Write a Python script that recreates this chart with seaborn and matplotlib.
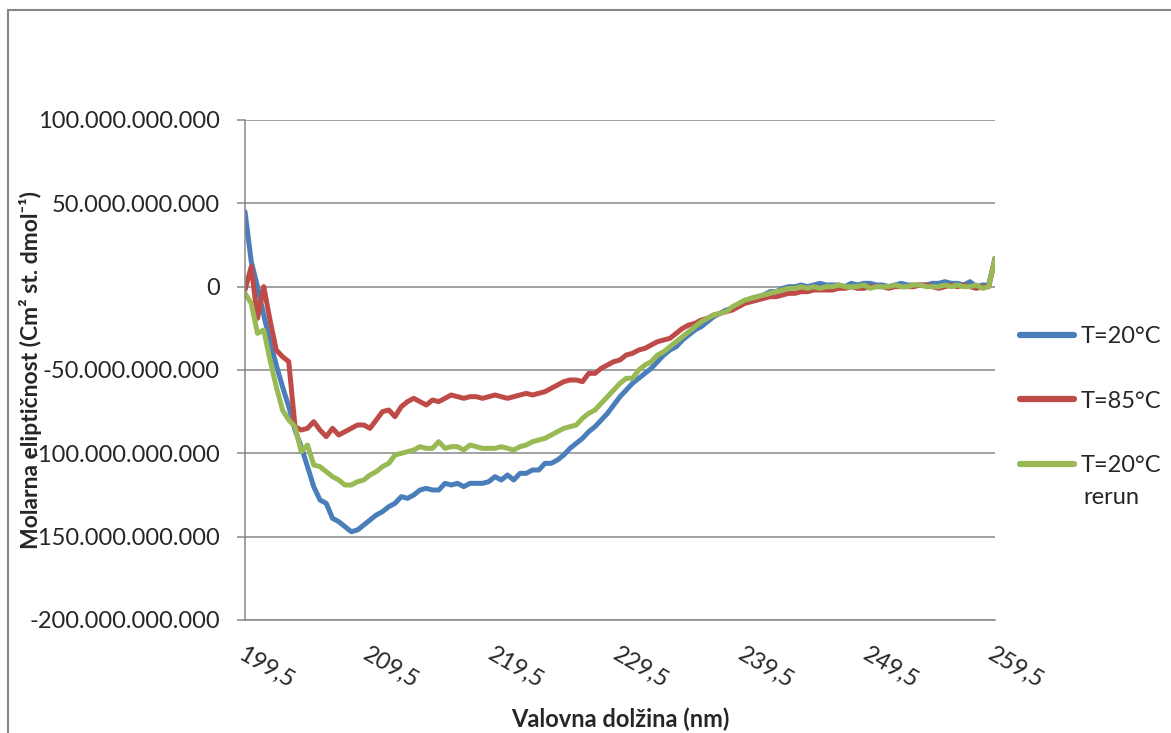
import numpy as np
import pandas as pd
import seaborn as sns
import matplotlib.pyplot as plt
from matplotlib.patches import Rectangle
from matplotlib.lines import Line2D
from matplotlib.ticker import FuncFormatter

# wavelengths (nm), 0.5 nm step as in the measurement
wavelength = np.arange(199.5, 259.75, 0.5)

# molar ellipticity, in units of 1e9
t20 = [45, 15, 0, -17, -33, -47, -60, -72, -86, -96,
       -108, -120, -128, -130, -139, -141, -144, -147, -146, -143,
       -140, -137, -135, -132, -130, -126, -127, -125, -122, -121,
       -122, -122, -118, -119, -118, -120, -118, -118, -118, -117,
       -114, -116, -113, -116, -112, -112, -110, -110, -106, -106,
       -104, -101, -97, -94, -91, -87, -84, -80, -76, -71,
       -66, -62, -58, -55, -52, -49, -45, -41, -38, -36,
       -32, -29, -26, -24, -21, -18, -16, -14, -13, -11,
       -9, -7, -6, -5, -3, -3, -1, 0, 0, 1,
       0, 1, 2, 1, 1, 1, 0, 2, 1, 2,
       2, 1, 1, 0, 1, 2, 1, 1, 1, 1,
       2, 2, 3, 2, 2, 1, 3, 0, 1, 1,
       17]
t85 = [-2, 12, -19, 0, -20, -38, -42, -45, -84, -86,
       -85, -81, -86, -90, -85, -89, -87, -85, -83, -83,
       -85, -80, -75, -74, -78, -72, -69, -67, -69, -71,
       -68, -69, -67, -65, -66, -67, -66, -66, -67, -66,
       -65, -66, -67, -66, -65, -64, -65, -64, -63, -61,
       -59, -57, -56, -56, -57, -52, -52, -49, -47, -45,
       -44, -41, -40, -38, -37, -35, -33, -32, -31, -28,
       -25, -23, -22, -20, -19, -17, -16, -15, -14, -12,
       -10, -9, -8, -7, -6, -6, -5, -4, -4, -3,
       -3, -2, -2, -2, -2, -1, -1, 0, -1, -1,
       0, 0, 0, -1, 0, 0, 0, 0, 1, 1,
       0, -1, 0, 1, 0, 1, 0, -1, 0, 0,
       17]
t20_rerun = [-4, -10, -28, -26, -44, -60, -74, -80, -84, -99,
             -95, -107, -108, -111, -114, -116, -119, -119, -117, -116,
             -113, -111, -108, -106, -101, -100, -99, -98, -96, -97,
             -97, -93, -97, -96, -96, -98, -95, -96, -97, -97,
             -97, -96, -97, -98, -96, -95, -93, -92, -91, -89,
             -87, -85, -84, -83, -79, -76, -74, -70, -66, -62,
             -58, -55, -55, -50, -47, -45, -41, -39, -36, -33,
             -30, -27, -24, -21, -19, -17, -16, -15, -12, -10,
             -8, -7, -6, -5, -4, -3, -2, -1, -1, 0,
             -1, 0, -1, 0, 0, 1, 0, 0, 0, 1,
             -1, 0, 0, 0, 1, 0, 0, 1, 1, 0,
             0, 0, 1, 0, 1, 0, 0, 1, -1, 0,
             17]

series = ['T=20°C', 'T=85°C', 'T=20°C rerun']
colors = ['#4A7EBB', '#BE4B48', '#98B954']
xticks = [199.5, 209.5, 219.5, 229.5, 239.5, 249.5, 259.5]
yticks = [-200e9, -150e9, -100e9, -50e9, 0, 50e9, 100e9]

df = pd.DataFrame({'nm': wavelength,
                   series[0]: np.array(t20) * 1e9,
                   series[1]: np.array(t85) * 1e9,
                   series[2]: np.array(t20_rerun) * 1e9})
long_df = df.melt(id_vars='nm', var_name='serija', value_name='elipticnost')

sns.set_style('white')
plt.rcParams['font.family'] = ['Lato', 'DejaVu Sans']
grey = '#878787'

fig = plt.figure(figsize=(11.71, 7.33), dpi=100)
ax = fig.add_axes([245 / 1171, 1 - 620 / 733, 750 / 1171, 500 / 733])

sns.lineplot(data=long_df, x='nm', y='elipticnost', hue='serija',
             palette=colors, linewidth=3.6, legend=False, ax=ax)
for ln in ax.lines:
    ln.set_solid_joinstyle('round')
    ln.set_solid_capstyle('round')

ax.set_xlim(199.5, 259.5)
ax.set_ylim(-200e9, 100e9)
ax.set_yticks(yticks)
ax.yaxis.set_major_formatter(FuncFormatter(lambda v, p: f"{v:,.0f}".replace(',', '.')))
ax.set_xticks(xticks)
ax.set_xticklabels([f"{t:.1f}".replace('.', ',') for t in xticks],
                   rotation=-30, ha='left', rotation_mode='anchor')

ax.tick_params(axis='x', bottom=False, length=0, pad=17, labelsize=17)
ax.tick_params(axis='y', left=True, length=6, width=1.1, color=grey,
               pad=12, labelsize=17)
ax.yaxis.grid(True, color=grey, linewidth=1.1)
ax.xaxis.grid(False)
ax.set_axisbelow(True)
for side in ['top', 'right']:
    ax.spines[side].set_visible(False)
for side in ['left', 'bottom']:
    ax.spines[side].set_color(grey)
    ax.spines[side].set_linewidth(1.1)

ax.set_xlabel('Valovna dolžina (nm)', fontsize=17, fontweight='bold')
ax.set_ylabel('Molarna eliptičnost (Cm² st. dmol⁻¹)', fontsize=16.5, fontweight='bold')
ax.xaxis.set_label_coords(0.5, -0.176)
ax.yaxis.set_label_coords(-0.271, 0.5)

# legend, outside on the right
handles = [Line2D([0], [0], color=c, lw=4.5, solid_capstyle='round') for c in colors]
fig.legend(handles, ['T=20°C', 'T=85°C', 'T=20°C'], loc='upper left',
           bbox_to_anchor=(1020 / 1171, 1 - 326 / 733), frameon=False,
           fontsize=17, handlelength=2.3, handletextpad=0.25,
           labelspacing=1.85, borderpad=0, borderaxespad=0)
fig.text(1083 / 1171, 1 - 497 / 733, 'rerun', fontsize=17, va='center', ha='left')

# chart frame
fig.add_artist(Rectangle((8 / 1171, -0.1), 1.2, 1 - 10 / 733 + 0.1,
                         transform=fig.transFigure, fill=False,
                         edgecolor=grey, linewidth=1.5))

fig.savefig('out.png', dpi=100)
